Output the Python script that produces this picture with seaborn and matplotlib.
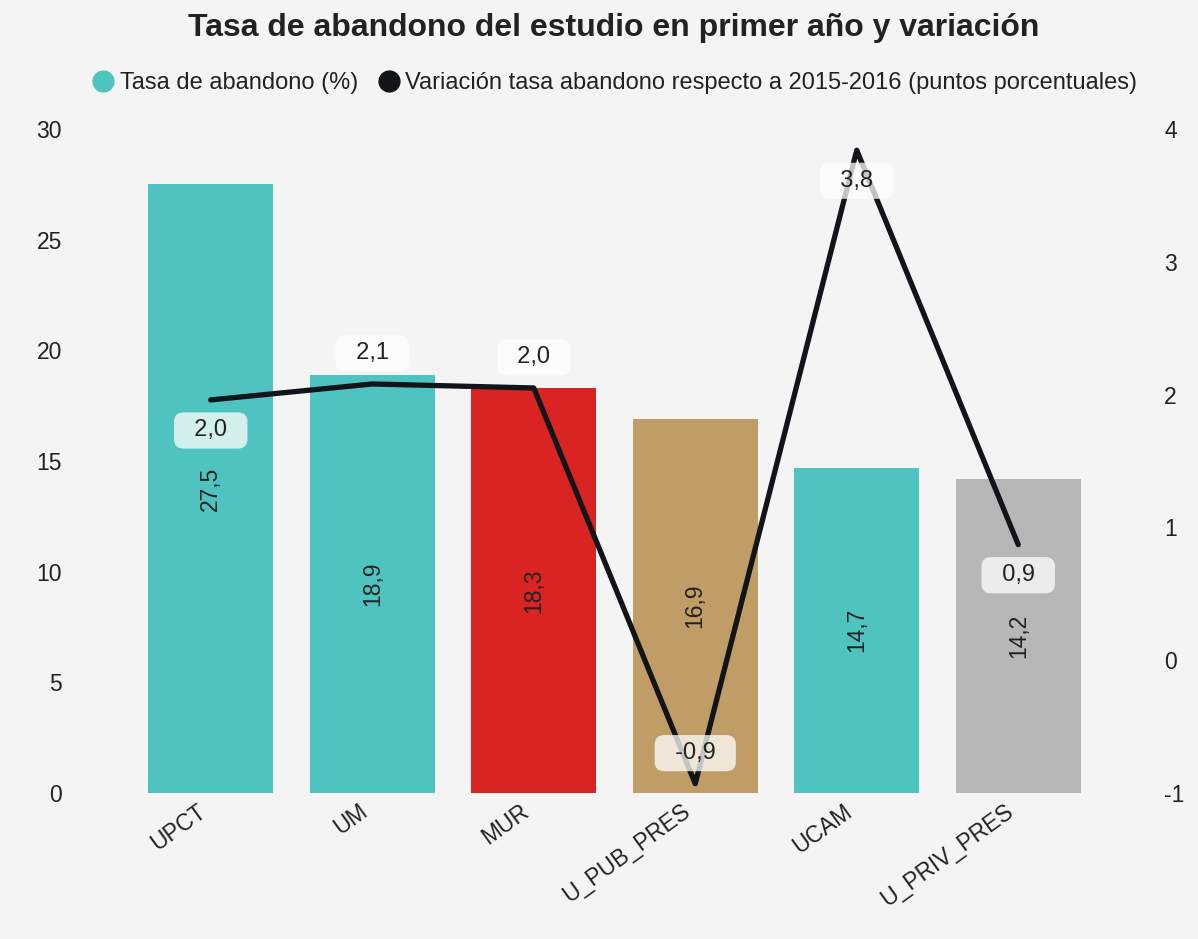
import matplotlib
matplotlib.use("Agg")
import matplotlib.pyplot as plt
import matplotlib.transforms as mtransforms
import seaborn as sns
from matplotlib.lines import Line2D

# ── Data ────────────────────────────────────────────────────────────────────
universidades = ["UPCT", "UM", "MUR", "U_PUB_PRES", "UCAM", "U_PRIV_PRES"]
tasa_abandono = [27.5, 18.9, 18.3, 16.9, 14.7, 14.2]
variacion = [1.96, 2.08, 2.05, -0.93, 3.84, 0.87]
variacion_txt = ["2,0", "2,1", "2,0", "-0,9", "3,8", "0,9"]
label_lado = [-1, 1, 1, 1, -1, -1]  # -1 below point, 1 above
colores = ["#4fc3bf", "#4fc3bf", "#da2323", "#c09d66", "#4fc3bf", "#b7b7b7"]

BG = "#f4f4f4"
TXT = "#222222"

sns.set_style("white")
plt.rcParams["font.family"] = ["Liberation Sans", "DejaVu Sans"]
plt.rcParams["axes.unicode_minus"] = False

fig = plt.figure(figsize=(11.98, 9.39), dpi=100, facecolor=BG)
ax = fig.add_axes([130 / 1198, 1 - 793 / 939, (1099 - 130) / 1198, (793 - 129) / 939])
ax.set_facecolor(BG)

# ── Bars ────────────────────────────────────────────────────────────────────
sns.barplot(x=universidades, y=tasa_abandono, hue=universidades, palette=colores,
            legend=False, width=0.775, saturation=1, linewidth=0, ax=ax)
for cont in ax.containers:
    ax.bar_label(cont, labels=[f"{v:.1f}".replace(".", ",") for v in cont.datavalues],
                 label_type="center", rotation=90, fontsize=16.5, color=TXT)

ax.set_ylim(0, 30)
ax.set_xlim(-0.5, 5.5)
ax.set_yticks([0, 5, 10, 15, 20, 25, 30])
ax.tick_params(axis="y", length=0, pad=49, labelsize=16.5, labelcolor=TXT)
ax.tick_params(axis="x", length=0, pad=5, labelsize=16.5, labelcolor=TXT)
shift = mtransforms.ScaledTranslation(-0.14, 0, fig.dpi_scale_trans)
for lab in ax.get_xticklabels():
    lab.set_rotation(36)
    lab.set_ha("right")
    lab.set_rotation_mode("anchor")
    lab.set_transform(lab.get_transform() + shift)
sns.despine(ax=ax, left=True, bottom=True)

# ── Line on secondary axis ──────────────────────────────────────────────────
ax2 = ax.twinx()
sns.lineplot(x=universidades, y=variacion, sort=False, color="#111418",
             linewidth=3.8, ax=ax2)
ax2.set_ylim(-1, 4)
ax2.set_yticks([-1, 0, 1, 2, 3, 4])
ax2.tick_params(axis="y", length=0, pad=47, labelsize=16.5, labelcolor=TXT)
for s in ax2.spines.values():
    s.set_visible(False)

for i, (v, t, lado) in enumerate(zip(variacion, variacion_txt, label_lado)):
    ax2.annotate(f"  {t}  ", (i, v), xytext=(0, 22 * lado), textcoords="offset points",
                 ha="center", va="center", fontsize=17, color=TXT,
                 bbox=dict(boxstyle="round,pad=0.3,rounding_size=0.4",
                           fc="white", ec="none", alpha=0.75))

# ── Title & legend ──────────────────────────────────────────────────────────
fig.suptitle("Tasa de abandono del estudio en primer año y variación",
             x=0.512, y=1 - 28 / 939, va="center", fontsize=23, fontweight="bold", color=TXT)

handles = [
    Line2D([], [], marker="o", linestyle="", markersize=15, color="#4fc3bf"),
    Line2D([], [], marker="o", linestyle="", markersize=15, color="#111418"),
]
fig.legend(handles, ["Tasa de abandono (%)",
                     "Variación tasa abandono respecto a 2015-2016 (puntos porcentuales)"],
           loc="center", bbox_to_anchor=(0.508, 1 - 83 / 939), ncol=2, frameon=False,
           fontsize=17, handletextpad=-0.3, columnspacing=0.3, labelcolor=TXT)

fig.savefig("out.png", dpi=100, facecolor=BG)
